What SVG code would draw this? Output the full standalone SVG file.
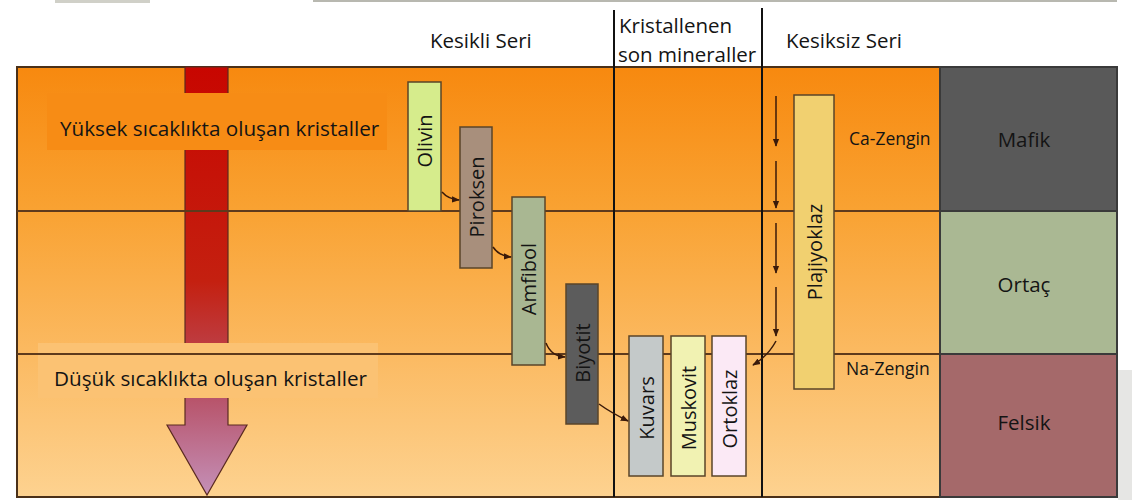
<svg xmlns="http://www.w3.org/2000/svg" width="1132" height="500" viewBox="0 0 1132 500">
<defs>
<linearGradient id="bg" x1="0" y1="67" x2="0" y2="497" gradientUnits="userSpaceOnUse">
<stop offset="0" stop-color="#f7890f"/>
<stop offset="0.33" stop-color="#f9a232"/>
<stop offset="0.67" stop-color="#fbba62"/>
<stop offset="1" stop-color="#fdd290"/>
</linearGradient>
<linearGradient id="arr" x1="0" y1="67" x2="0" y2="495" gradientUnits="userSpaceOnUse">
<stop offset="0" stop-color="#c80600"/>
<stop offset="0.5" stop-color="#c42010"/>
<stop offset="0.78" stop-color="#b8556c"/>
<stop offset="1" stop-color="#c490b8"/>
</linearGradient>
<marker id="ah" viewBox="0 0 10 10" refX="9" refY="5" markerWidth="8" markerHeight="8" orient="auto" markerUnits="userSpaceOnUse">
<path d="M0,1 L10,5 L0,9 Z" fill="#3a1a0a"/>
</marker>
<style>
.t{font-family:"Open Sans","Liberation Sans",sans-serif;fill:#141414}
.box{stroke:#5a4428;stroke-width:1.5}
.hl{stroke:#5e3a1c;stroke-width:2}
.vl{stroke:#111;stroke-width:2}
.con{fill:none;stroke:#3a1a0a;stroke-width:1.5}
.bt{font-size:20px}
</style>
</defs>
<rect width="1132" height="500" fill="#ffffff"/>
<line x1="313" y1="1" x2="1117" y2="1" stroke="#b8b8b0" stroke-width="2"/>
<rect x="55" y="0" width="95" height="3" fill="#d0d0c8"/>
<rect x="1118" y="370" width="14" height="130" fill="#e6e6e4"/>
<g id="background">
<rect x="17" y="67" width="923" height="430" fill="url(#bg)" stroke="#4a3018" stroke-width="2"/>
</g>
<g id="temp-arrow">
<path d="M185,67 L228,67 L228,425 L247,425 L207,495 L167,425 L185,425 Z" fill="url(#arr)" stroke="#5a2a20" stroke-width="1.2"/>
</g>
<g id="band-high">
<rect x="47" y="93" width="340" height="57" fill="#f78c15"/>
<text class="t" x="60" y="136" font-size="20.7">Yüksek sıcaklıkta oluşan kristaller</text>
</g>
<g id="band-low">
<rect x="38" y="343" width="340" height="55" fill="#fbc273"/>
<text class="t" x="54" y="386" font-size="20.7">Düşük sıcaklıkta oluşan kristaller</text>
</g>
<g id="grid">
<line class="hl" x1="17" y1="211" x2="940" y2="211"/>
<line class="hl" x1="17" y1="354" x2="940" y2="354"/>
<line class="vl" x1="614" y1="10" x2="614" y2="497"/>
<line class="vl" x1="762" y1="8" x2="762" y2="497"/>
</g>
<g id="headers">
<text class="t" x="430" y="48" font-size="20.5">Kesikli Seri</text>
<text class="t" x="619" y="33" font-size="20.5">Kristallenen</text>
<text class="t" x="618" y="62" font-size="20.5">son mineraller</text>
<text class="t" x="786" y="48" font-size="20.5">Kesiksiz Seri</text>
</g>
<g id="olivin">
<rect class="box" x="408" y="82" width="33" height="129" fill="#d6ec8c"/>
<text class="t bt" text-anchor="middle" dominant-baseline="central" transform="translate(424.5,141) rotate(-90)">Olivin</text>
</g>
<g id="piroksen">
<rect class="box" x="460" y="127" width="32" height="141" fill="#a88f7c"/>
<text class="t bt" text-anchor="middle" dominant-baseline="central" transform="translate(476,197) rotate(-90)">Piroksen</text>
</g>
<g id="amfibol">
<rect class="box" x="512" y="197" width="33" height="168" fill="#a9b792"/>
<text class="t bt" text-anchor="middle" dominant-baseline="central" transform="translate(528.5,279) rotate(-90)">Amfibol</text>
</g>
<g id="biyotit">
<rect class="box" x="566" y="284" width="32" height="140" fill="#5c5c5c"/>
<text class="t bt" text-anchor="middle" dominant-baseline="central" transform="translate(582,353) rotate(-90)">Biyotit</text>
</g>
<g id="kuvars">
<rect class="box" x="629" y="336" width="34" height="140" fill="#c4c9c9"/>
<text class="t bt" text-anchor="middle" dominant-baseline="central" transform="translate(646,408) rotate(-90)">Kuvars</text>
</g>
<g id="muskovit">
<rect class="box" x="671" y="336" width="34" height="140" fill="#f1f2b2"/>
<text class="t bt" text-anchor="middle" dominant-baseline="central" transform="translate(688,408) rotate(-90)">Muskovit</text>
</g>
<g id="ortoklaz">
<rect class="box" x="712" y="336" width="34" height="140" fill="#fbe9f5"/>
<text class="t bt" text-anchor="middle" dominant-baseline="central" transform="translate(729,409) rotate(-90)">Ortoklaz</text>
</g>
<g id="plajiyoklaz">
<rect class="box" x="794" y="95" width="40" height="294" fill="#f1d070"/>
<text class="t bt" text-anchor="middle" dominant-baseline="central" transform="translate(814,252) rotate(-90)">Plajiyoklaz</text>
</g>
<g id="labels">
<text class="t" x="849" y="145" font-size="17.5">Ca-Zengin</text>
<text class="t" x="846" y="375" font-size="17.5">Na-Zengin</text>
</g>
<g id="mafik">
<rect x="940" y="67" width="177" height="144" fill="#595959" stroke="#3a3a3a" stroke-width="2"/>
<text class="t" x="1024" y="147" font-size="20.5" text-anchor="middle">Mafik</text>
</g>
<g id="ortac">
<rect x="940" y="211" width="177" height="143" fill="#aab893" stroke="#3a3a3a" stroke-width="2"/>
<text class="t" x="1024" y="292" font-size="20.5" text-anchor="middle">Ortaç</text>
</g>
<g id="felsik">
<rect x="940" y="354" width="177" height="143" fill="#a5696a" stroke="#3a3a3a" stroke-width="2"/>
<text class="t" x="1024" y="430" font-size="20.5" text-anchor="middle">Felsik</text>
</g>
<g id="connectors">
<path class="con" d="M442,192 Q448,199 459,200" marker-end="url(#ah)"/>
<path class="con" d="M493,247 Q499,256 511,257" marker-end="url(#ah)"/>
<path class="con" d="M546,343 Q551,356 565,357" marker-end="url(#ah)"/>
<path class="con" d="M599,404 Q610,412 628,421" marker-end="url(#ah)"/>
<path class="con" d="M776,96 L776,146" marker-end="url(#ah)"/>
<path class="con" d="M776,161 L776,208" marker-end="url(#ah)"/>
<path class="con" d="M776,223 L776,273" marker-end="url(#ah)"/>
<path class="con" d="M776,287 L776,336" marker-end="url(#ah)"/>
<path class="con" d="M776,341 Q768,356 753,365" marker-end="url(#ah)"/>
</g>
</svg>
